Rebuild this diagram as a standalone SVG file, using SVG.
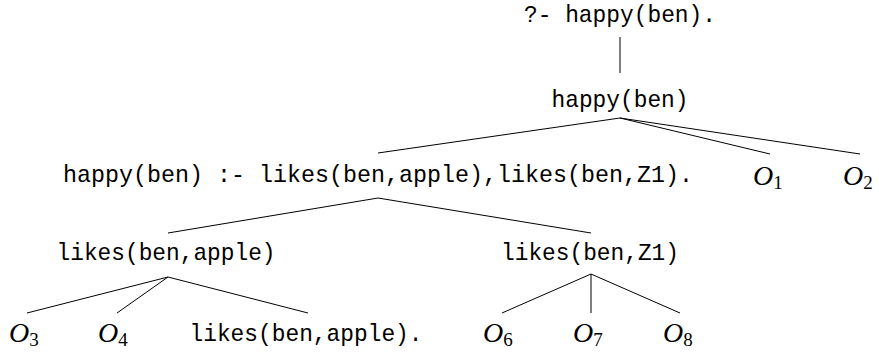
<svg xmlns="http://www.w3.org/2000/svg" width="879" height="354" viewBox="0 0 879 354">
<style>
.tt{font-family:"Liberation Mono","Courier New",monospace;font-size:24px;fill:#000;text-anchor:middle}
.m{font-family:"Liberation Serif","Times New Roman",serif;font-style:italic;font-size:28px;fill:#000}
.s{font-family:"Liberation Serif","Times New Roman",serif;font-style:normal;font-size:19px}
.e{stroke:#000;stroke-width:1;fill:none}
</style>
<rect width="879" height="354" fill="#fff"/>
<g id="connectors">
<line class="e" x1="620" y1="37" x2="620" y2="73"/>
<line class="e" x1="620" y1="118" x2="378" y2="153"/>
<line class="e" x1="620" y1="118" x2="770" y2="154"/>
<line class="e" x1="620" y1="118" x2="860" y2="154"/>
<line class="e" x1="378" y1="198" x2="168" y2="233"/>
<line class="e" x1="378" y1="198" x2="591" y2="233"/>
<line class="e" x1="168" y1="277" x2="27" y2="313"/>
<line class="e" x1="168" y1="277" x2="117" y2="313"/>
<line class="e" x1="168" y1="277" x2="308" y2="313"/>
<line class="e" x1="591" y1="274" x2="502" y2="313"/>
<line class="e" x1="591" y1="274" x2="591" y2="313"/>
<line class="e" x1="591" y1="274" x2="680" y2="313"/>
</g>
<g id="query"><text class="tt" x="620" y="22" textLength="192" lengthAdjust="spacingAndGlyphs">?- happy(ben).</text></g>
<g id="goal"><text class="tt" x="620" y="107" textLength="137" lengthAdjust="spacingAndGlyphs">happy(ben)</text></g>
<g id="rule"><text class="tt" x="378" y="182" textLength="630" lengthAdjust="spacingAndGlyphs">happy(ben) :- likes(ben,apple),likes(ben,Z1).</text></g>
<g id="o1"><text class="m" x="753" y="185">O<tspan class="s" dy="4">1</tspan></text></g>
<g id="o2"><text class="m" x="843" y="185">O<tspan class="s" dy="4">2</tspan></text></g>
<g id="likes-apple"><text class="tt" x="166" y="260" textLength="219" lengthAdjust="spacingAndGlyphs">likes(ben,apple)</text></g>
<g id="likes-z1"><text class="tt" x="590" y="260" textLength="178" lengthAdjust="spacingAndGlyphs">likes(ben,Z1)</text></g>
<g id="o3"><text class="m" x="9" y="342">O<tspan class="s" dy="4">3</tspan></text></g>
<g id="o4"><text class="m" x="98" y="342">O<tspan class="s" dy="4">4</tspan></text></g>
<g id="fact"><text class="tt" x="306" y="341" textLength="233" lengthAdjust="spacingAndGlyphs">likes(ben,apple).</text></g>
<g id="o6"><text class="m" x="483" y="342">O<tspan class="s" dy="4">6</tspan></text></g>
<g id="o7"><text class="m" x="573" y="342">O<tspan class="s" dy="4">7</tspan></text></g>
<g id="o8"><text class="m" x="663" y="342">O<tspan class="s" dy="4">8</tspan></text></g>
</svg>
